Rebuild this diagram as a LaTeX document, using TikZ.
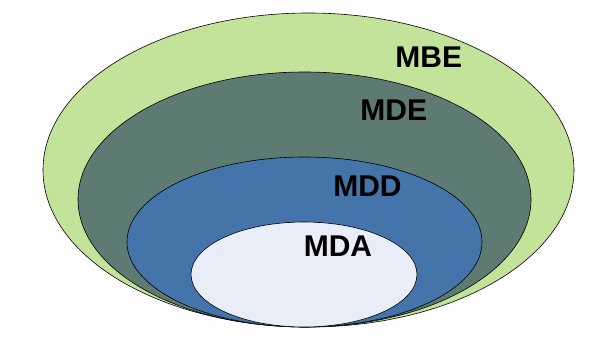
\documentclass[tikz,border=0pt]{standalone}
\usepackage{fontspec}
\setmainfont{Liberation Sans}
\usepackage{tikz}

\definecolor{mbegreen}{HTML}{C3E29A}
\definecolor{mdegray}{HTML}{5E7B73}
\definecolor{mddblue}{HTML}{4574AA}
\definecolor{mdapale}{HTML}{E8EDF8}

\tikzset{
  layer/.style={draw=black, line width=0.6pt},
  layerlabel/.style={font=\bfseries\fontsize{30}{36}\selectfont, inner sep=0pt}
}

\begin{document}
\begin{tikzpicture}[x=1pt, y=-1pt]
    \useasboundingbox (0,0) rectangle (616,353);

    \filldraw[layer, fill=mbegreen] (308.5,170) ellipse [x radius=265.5, y radius=157];
    \filldraw[layer, fill=mdegray] (304.5,199.5) ellipse [x radius=226.5, y radius=127.5];
    \filldraw[layer, fill=mddblue] (304.5,242) ellipse [x radius=177.5, y radius=85];
    \filldraw[layer, fill=mdapale] (304,274.5) ellipse [x radius=113, y radius=52.5];

    \node[layerlabel] (mbe) at (428.7,57.5) {MBE};
    \node[layerlabel] (mde) at (393.8,110) {MDE};
    \node[layerlabel] (mdd) at (367.5,186) {MDD};
    \node[layerlabel] (mda) at (338,245.8) {MDA};
\end{tikzpicture}
\end{document}
